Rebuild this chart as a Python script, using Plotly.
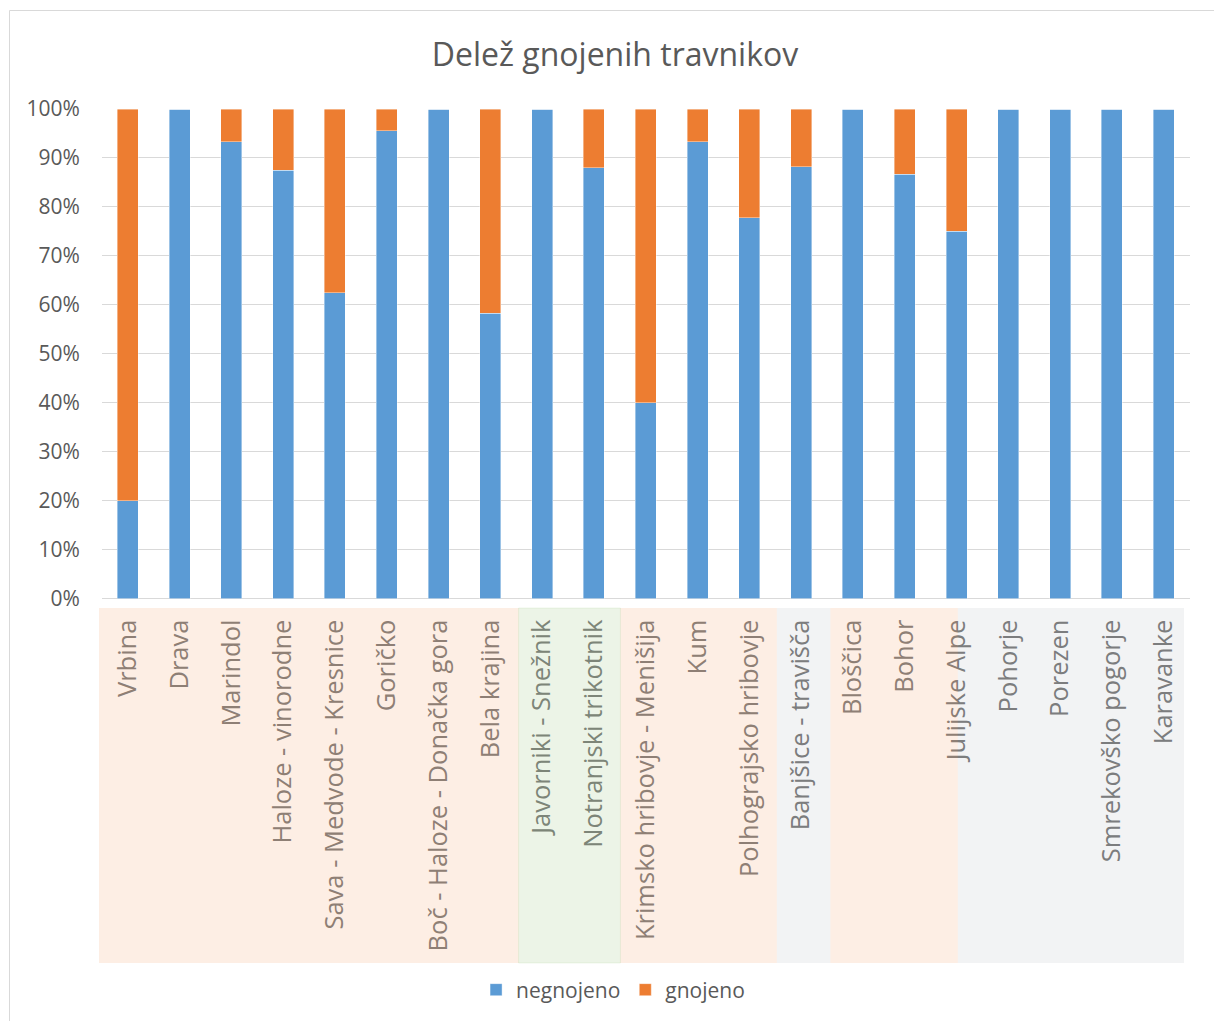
import plotly.graph_objects as go

# Grassland sites and share of fertilised / unfertilised plots (fractions)
categories = [
    "Vrbina", "Drava", "Marindol", "Haloze - vinorodne",
    "Sava - Medvode - Kresnice", "Goričko", "Boč - Haloze - Donačka gora",
    "Bela krajina", "Javorniki - Snežnik", "Notranjski trikotnik",
    "Krimsko hribovje - Menišija", "Kum", "Polhograjsko hribovje",
    "Banjšice - travišča", "Bloščica", "Bohor", "Julijske Alpe",
    "Pohorje", "Porezen", "Smrekovško pogorje", "Karavanke",
]
negnojeno = [0.200, 1.000, 0.933, 0.875, 0.625, 0.956, 1.000, 0.583, 1.000, 0.880,
             0.400, 0.933, 0.778, 0.882, 1.000, 0.867, 0.750, 1.000, 1.000, 1.000, 1.000]
gnojeno = [0.800, 0.000, 0.067, 0.125, 0.375, 0.044, 0.000, 0.417, 0.000, 0.120,
           0.600, 0.067, 0.222, 0.118, 0.000, 0.133, 0.250, 0.000, 0.000, 0.000, 0.000]
y_ticks = [0, 0.1, 0.2, 0.3, 0.4, 0.5, 0.6, 0.7, 0.8, 0.9, 1.0]
y_tick_labels = ["0%", "10%", "20%", "30%", "40%", "50%", "60%", "70%", "80%", "90%", "100%"]

W, H = 1214, 1021
FONT = "Open Sans"

fig = go.Figure()
fig.add_trace(go.Bar(
    x=categories, y=negnojeno, name="negnojeno",
    marker=dict(color="#5B9BD5", line=dict(color="rgba(255,255,255,0.5)", width=0.8)),
))
fig.add_trace(go.Bar(
    x=categories, y=gnojeno, name="gnojeno",
    marker=dict(color="#ED7D31", line=dict(color="rgba(255,255,255,0.5)", width=0.8)),
))

# translucent region bands laid over the category labels (x in paper pixels)
bands = [
    (99, 518.6, "rgba(237,125,49,0.13)", "rgba(0,0,0,0)"),
    (518.6, 620.4, "rgba(112,173,71,0.13)", "rgba(112,173,71,0.1)"),
    (620.4, 776.8, "rgba(237,125,49,0.13)", "rgba(0,0,0,0)"),
    (776.8, 830.4, "rgba(68,84,106,0.07)", "rgba(0,0,0,0)"),
    (830.4, 957.8, "rgba(237,125,49,0.13)", "rgba(0,0,0,0)"),
    (957.8, 1184, "rgba(68,84,106,0.07)", "rgba(0,0,0,0)"),
]
shapes = []
for x0, x1, fill, edge in bands:
    shapes.append(dict(
        type="rect", xref="paper", yref="paper", x0=x0 / W, x1=x1 / W,
        y0=1 - 963 / H, y1=1 - 608 / H,
        fillcolor=fill, line=dict(color=edge, width=1), layer="above",
    ))
# chart frame
shapes.append(dict(
    type="rect", xref="paper", yref="paper",
    x0=9.5 / W, x1=1.02, y0=-0.02, y1=1 - 10.5 / H,
    line=dict(color="#D9D9D9", width=1), fillcolor="rgba(0,0,0,0)", layer="below",
))

fig.update_layout(
    width=W, height=H,
    template="none",
    barmode="stack",
    bargap=0.595,
    margin=dict(l=0, r=0, t=0, b=0),
    paper_bgcolor="white",
    plot_bgcolor="white",
    font=dict(family=FONT, color="#595959"),
    title=dict(
        text="Delež gnojenih travnikov",
        x=615 / W, xanchor="center", xref="paper",
        y=1 - 55 / H, yanchor="middle", yref="paper",
        font=dict(family=FONT, size=32, color="#595959"),
    ),
    xaxis=dict(
        domain=[101.9 / W, 1189.6 / W],
        range=[-0.5, 20.5],
        tickangle=-90,
        tickfont=dict(family=FONT, size=25.5, color="#808080"),
        ticklabelstandoff=15,
        showgrid=False,
        showline=False,
        ticks="",
        automargin=False,
    ),
    yaxis=dict(
        domain=[1 - 598.5 / H, 1 - 109 / H],
        range=[0, 1],
        tickvals=y_ticks,
        ticktext=y_tick_labels,
        tickfont=dict(family=FONT, size=21, color="#595959"),
        ticklabelstandoff=21,
        showgrid=True,
        gridcolor="#D9D9D9",
        gridwidth=1.3,
        zeroline=True,
        zerolinecolor="#D9D9D9",
        zerolinewidth=1.3,
        showline=False,
        ticks="",
        automargin=False,
    ),
    legend=dict(
        orientation="h",
        x=0.505, xanchor="center",
        y=1 - 990 / H, yanchor="middle",
        font=dict(family=FONT, size=21, color="#595959"),
        traceorder="normal",
        itemwidth=30,
        bgcolor="rgba(0,0,0,0)",
    ),
    shapes=shapes,
)

fig.write_html("out.html")
